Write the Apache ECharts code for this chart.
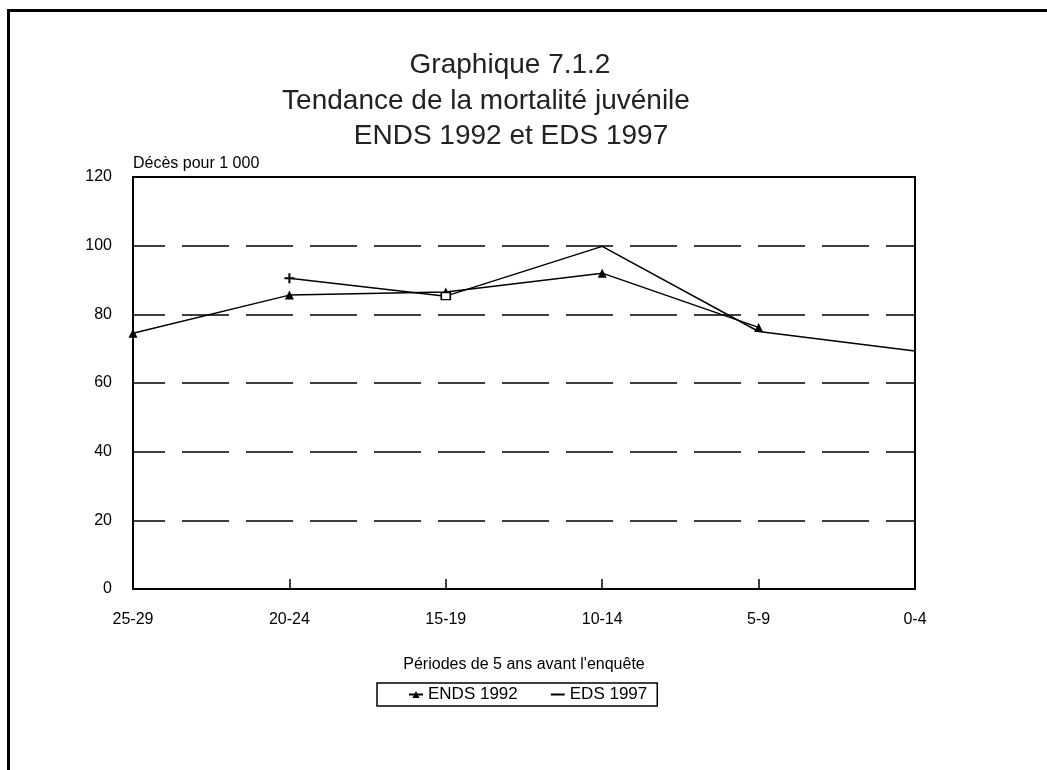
<!DOCTYPE html>
<html>
<head>
<meta charset="utf-8">
<script src="https://cdn.jsdelivr.net/npm/echarts@6/dist/echarts.min.js"></script>
<style>
  html, body { margin: 0; padding: 0; background: #fff; }
  #main { width: 1047px; height: 770px; }
</style>
</head>
<body>
<div id="main"></div>
<script>
// périodes (axe x) et taux de mortalité juvénile pour 1 000
var periodes = ["25-29", "20-24", "15-19", "10-14", "5-9", "0-4"];
var ends1992 = [74.5, 85.6, 86.5, 92, 76.2, null];
var eds1997 = [null, 90.5, 85.3, 99.8, 75, 69.3];
var yTicks = { min: 0, max: 120, step: 20 };

var police = "'Liberation Sans', Arial, sans-serif";
var chartDom = document.getElementById("main");
var myChart = echarts.init(chartDom);

// marqueurs isolés de la série EDS 1997 (croix au début, carré vide)
var edsData = eds1997.map(function (v, i) {
  if (i === 1) return { value: v, symbol: "path://M4,0 H6 V4 H10 V6 H6 V10 H4 V6 H0 V4 H4 Z", symbolSize: 10 };
  if (i === 2) return { value: v, symbol: "rect", symbolSize: [9, 7], itemStyle: { color: "#fff", borderColor: "#000", borderWidth: 1.5 } };
  return v;
});

var option = {
  animation: false,
  backgroundColor: "#fff",
  textStyle: { fontFamily: police },
  graphic: [
    // cadre du graphique
    {
      type: "polyline",
      shape: { points: [[8.5, 770], [8.5, 10.5], [1047, 10.5]] },
      style: { stroke: "#000", lineWidth: 3, fill: null }
    },
    { type: "text", x: 510, y: 51, style: { text: "Graphique 7.1.2", font: "28px " + police, fill: "#222", textAlign: "center" } },
    { type: "text", x: 486, y: 87, style: { text: "Tendance de la mortalité juvénile", font: "28px " + police, fill: "#222", textAlign: "center" } },
    { type: "text", x: 511, y: 122, style: { text: "ENDS 1992 et EDS 1997", font: "28px " + police, fill: "#222", textAlign: "center" } }
  ],
  grid: {
    left: 133,
    right: 132,
    top: 177,
    bottom: 181,
    show: true,
    borderColor: "#000",
    borderWidth: 2
  },
  legend: {
    top: 683,
    left: 377,
    padding: [3, 10, 3, 31],
    itemGap: 32,
    itemWidth: 14,
    itemHeight: 9,
    borderColor: "#000",
    borderWidth: 1.5,
    textStyle: { fontSize: 17, color: "#000", fontFamily: police },
    data: [
      { name: "ENDS 1992" },
      { name: "EDS 1997", itemStyle: { color: "rgba(0,0,0,0)", borderColor: "rgba(0,0,0,0)" } }
    ]
  },
  xAxis: {
    type: "category",
    boundaryGap: false,
    data: periodes,
    name: "Périodes de 5 ans avant l'enquête",
    nameLocation: "middle",
    nameGap: 68,
    nameTextStyle: { fontSize: 16, color: "#000" },
    axisLine: { lineStyle: { color: "#000", width: 2 } },
    axisTick: { inside: true, length: 10, lineStyle: { color: "#000", width: 1.5 } },
    axisLabel: { margin: 23, fontSize: 16, color: "#000" },
    splitLine: { show: false }
  },
  yAxis: {
    type: "value",
    min: yTicks.min,
    max: yTicks.max,
    interval: yTicks.step,
    name: "Décès pour 1 000",
    nameLocation: "end",
    nameGap: 5,
    nameTextStyle: { fontSize: 16, color: "#000", align: "left", verticalAlign: "bottom" },
    axisLine: { show: true, lineStyle: { color: "#000", width: 2 } },
    axisTick: { show: false },
    axisLabel: { margin: 21, fontSize: 16, color: "#000" },
    splitLine: { lineStyle: { color: "#000", width: 1.5, type: [47, 17], dashOffset: 15 } }
  },
  series: [
    {
      name: "ENDS 1992",
      type: "line",
      data: ends1992,
      symbol: "triangle",
      symbolSize: 9,
      itemStyle: { color: "#000" },
      lineStyle: { color: "#000", width: 1.5 }
    },
    {
      name: "EDS 1997",
      type: "line",
      data: edsData,
      symbol: "none",
      itemStyle: { color: "#000" },
      lineStyle: { color: "#000", width: 1.5 }
    }
  ]
};

if (option && typeof option === "object") {
  myChart.setOption(option);
}
</script>
</body>
</html>
